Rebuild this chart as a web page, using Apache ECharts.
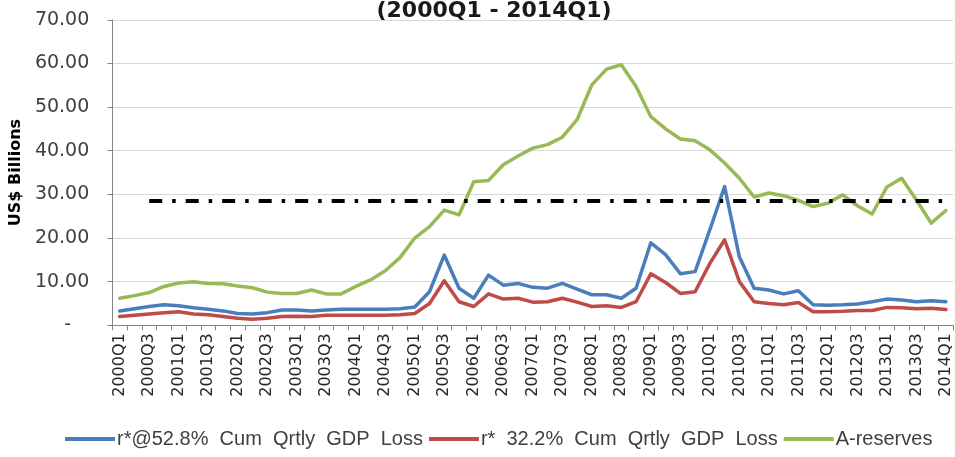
<!DOCTYPE html>
<html>
<head>
<meta charset="utf-8">
<script src="https://cdn.jsdelivr.net/npm/echarts@6/dist/echarts.min.js"></script>
<style>
html,body{margin:0;padding:0;background:#fff;}
#chart{width:955px;height:457px;}
</style>
</head>
<body>
<div id="chart"></div>
<script>
const categories = [
  '2000Q1','2000Q2','2000Q3','2000Q4','2001Q1','2001Q2','2001Q3','2001Q4',
  '2002Q1','2002Q2','2002Q3','2002Q4','2003Q1','2003Q2','2003Q3','2003Q4',
  '2004Q1','2004Q2','2004Q3','2004Q4','2005Q1','2005Q2','2005Q3','2005Q4',
  '2006Q1','2006Q2','2006Q3','2006Q4','2007Q1','2007Q2','2007Q3','2007Q4',
  '2008Q1','2008Q2','2008Q3','2008Q4','2009Q1','2009Q2','2009Q3','2009Q4',
  '2010Q1','2010Q2','2010Q3','2010Q4','2011Q1','2011Q2','2011Q3','2011Q4',
  '2012Q1','2012Q2','2012Q3','2012Q4','2013Q1','2013Q2','2013Q3','2013Q4',
  '2014Q1'
];
const blueLoss = [
  3.3,3.8,4.3,4.7,4.5,4.0,3.7,3.3,2.7,2.6,2.9,3.5,3.5,3.3,3.5,3.7,
  3.7,3.7,3.7,3.8,4.2,7.7,16.1,8.5,6.2,11.5,9.2,9.6,8.7,8.5,9.6,8.3,
  7.0,7.0,6.2,8.5,18.9,16.2,11.8,12.3,21.9,31.8,15.7,8.5,8.1,7.2,7.9,4.7,
  4.6,4.7,4.9,5.4,6.0,5.8,5.4,5.6,5.4
];
const redLoss = [
  2.0,2.3,2.6,2.9,3.1,2.6,2.4,2.0,1.6,1.4,1.6,2.0,2.1,2.0,2.3,2.3,
  2.3,2.3,2.3,2.4,2.7,5.0,10.2,5.4,4.3,7.2,6.0,6.2,5.3,5.4,6.2,5.3,
  4.3,4.5,4.1,5.4,11.8,9.8,7.3,7.7,14.2,19.6,10.0,5.4,5.0,4.7,5.2,3.1,
  3.1,3.2,3.4,3.4,4.1,4.0,3.8,3.9,3.6
];
const aReserves = [
  6.2,6.8,7.5,8.9,9.7,10.0,9.6,9.5,9.0,8.6,7.6,7.3,7.3,8.1,7.2,7.2,
  8.9,10.4,12.5,15.5,20.0,22.6,26.4,25.3,32.9,33.2,36.8,38.8,40.6,41.4,43.1,47.1,
  55.1,58.7,59.7,54.7,47.8,45.0,42.7,42.3,40.2,37.2,33.7,29.4,30.3,29.7,28.6,27.2,
  28.0,29.9,27.4,25.5,31.7,33.7,28.7,23.4,26.3
];
const seriesNames = [
  'r*@52.8%  Cum  Qrtly  GDP  Loss',
  'r*  32.2%  Cum  Qrtly  GDP  Loss',
  'A-reserves'
];
const thresholdValue = 28.5;
const thresholdStart = '2000Q3';
const thresholdEnd = '2014Q1';
const yTicks = [0, 10, 20, 30, 40, 50, 60, 70];

const chart = echarts.init(document.getElementById('chart'), null, {renderer: 'canvas'});
const lineStyleBase = {width: 3.5, cap: 'round', join: 'round'};
chart.setOption({
  animation: false,
  backgroundColor: '#ffffff',
  title: {
    text: '(2000Q1 - 2014Q1)',
    left: 489, textAlign: 'center', top: -5,
    textStyle: {fontFamily: 'DejaVu Sans', fontWeight: 'bold', fontSize: 22, color: '#1a1a1a'}
  },
  grid: {left: 108.3, right: 1.7, top: 19.8, bottom: 131.7, containLabel: false},
  legend: {
    bottom: 3, left: 60,
    icon: 'rect', itemWidth: 50, itemHeight: 4, itemGap: 6,
    data: seriesNames,
    textStyle: {fontFamily: 'Liberation Sans', fontSize: 20, color: '#404040', padding: [0, 0, 0, -3]}
  },
  xAxis: {
    type: 'category', data: categories, boundaryGap: true,
    axisLine: {lineStyle: {color: '#868686', width: 1}},
    axisTick: {show: true, interval: 0, length: 5, lineStyle: {color: '#868686'}},
    axisLabel: {interval: 1, rotate: 90, margin: 8, fontFamily: 'DejaVu Sans', fontSize: 16, color: '#262626'},
    splitLine: {show: false}
  },
  yAxis: {
    type: 'value', min: yTicks[0], max: yTicks[yTicks.length - 1], interval: 10,
    name: 'US$ Billions', nameLocation: 'middle', nameGap: 80, nameRotate: 90,
    nameTextStyle: {fontFamily: 'DejaVu Sans', fontWeight: 'bold', fontSize: 16, color: '#000'},
    axisLine: {show: true, lineStyle: {color: '#868686', width: 1}},
    axisTick: {show: true, length: 5, lineStyle: {color: '#868686'}},
    axisLabel: {
      margin: 23, fontFamily: 'DejaVu Sans', fontSize: 19, color: '#404040',
      formatter: v => v === 0 ? '-   ' : v.toFixed(2)
    },
    splitLine: {lineStyle: {color: '#d9d9d9', width: 1}}
  },
  series: [
    {name: seriesNames[0], type: 'line', data: blueLoss, showSymbol: false, symbol: 'none',
     color: '#4a7ebb', lineStyle: Object.assign({color: '#4a7ebb'}, lineStyleBase), z: 3},
    {name: seriesNames[1], type: 'line', data: redLoss, showSymbol: false, symbol: 'none',
     color: '#be4b48', lineStyle: Object.assign({color: '#be4b48'}, lineStyleBase), z: 2},
    {name: seriesNames[2], type: 'line', data: aReserves, showSymbol: false, symbol: 'none',
     color: '#98b954', lineStyle: Object.assign({color: '#98b954'}, lineStyleBase), z: 4,
     markLine: {
       silent: true, symbol: ['none', 'none'], label: {show: false},
       lineStyle: {color: '#000', width: 4, type: [13, 10, 3.5, 10], cap: 'butt'},
       data: [[{coord: [thresholdStart, thresholdValue]}, {coord: [thresholdEnd, thresholdValue]}]]
     }}
  ]
});
</script>
</body>
</html>
